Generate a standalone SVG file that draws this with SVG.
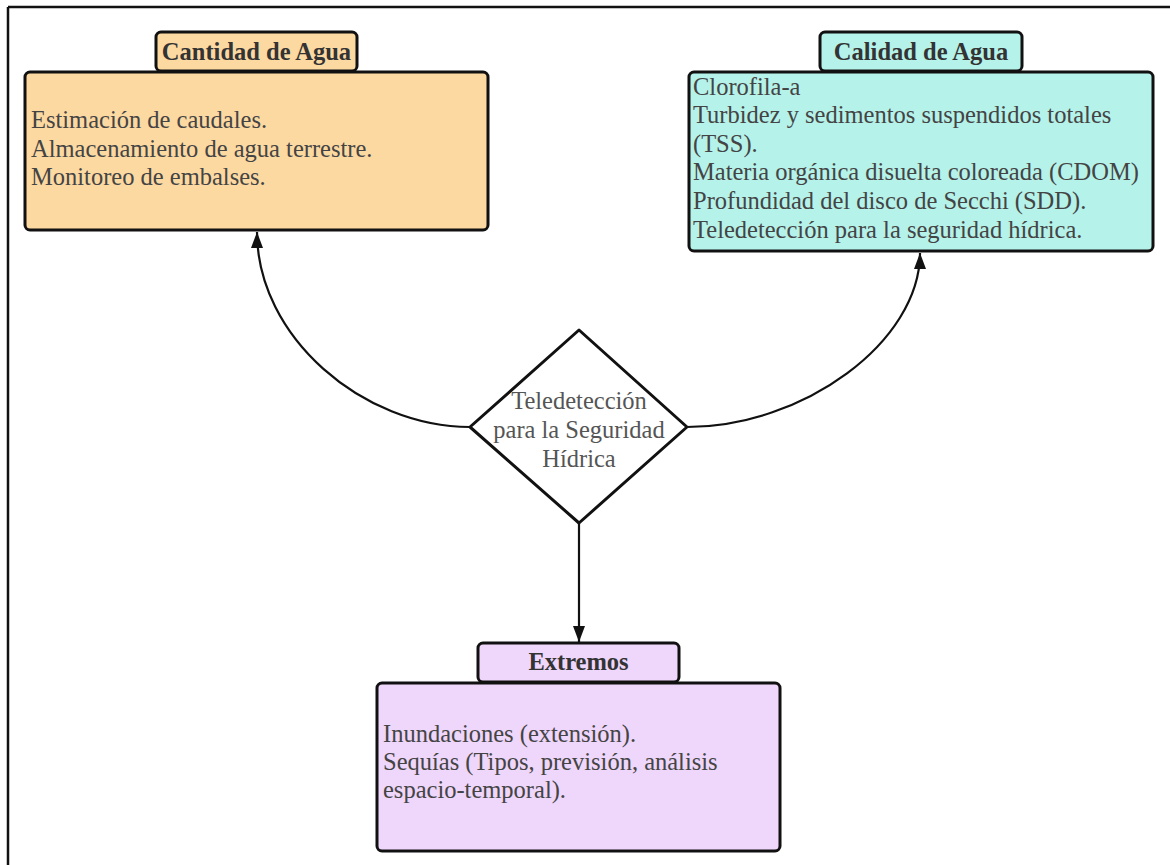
<svg xmlns="http://www.w3.org/2000/svg" width="1170" height="865" viewBox="0 0 1170 865">
<defs>
<style>
.box{stroke:#111;stroke-width:3}
.orange{fill:#fdd9a2}
.cyan{fill:#b5f2ea}
.purple{fill:#efd6fb}
.title{font-family:"Liberation Serif",serif;font-weight:bold;font-size:24.5px;fill:#333;text-anchor:middle}
.body{font-family:"Liberation Serif",serif;font-size:24.5px;fill:#444}
.dtext{font-family:"Liberation Serif",serif;font-size:24.5px;fill:#555;text-anchor:middle}
.conn{fill:none;stroke:#111;stroke-width:2.2}
</style>
<marker id="arr" markerUnits="userSpaceOnUse" markerWidth="16" markerHeight="14" refX="16" refY="6" orient="auto">
<path d="M0,0 L16,6 L0,12 Z" fill="#111"/>
</marker>
</defs>
<rect width="1170" height="865" fill="#fff"/>
<g id="frame">
<path d="M8,7 H1170 M8,7 V865" fill="none" stroke="#111" stroke-width="2.5"/>
</g>
<g id="connectors">
<path class="conn" d="M470,427 C363,427 257,337 257,232" marker-end="url(#arr)"/>
<path class="conn" d="M687,427 C803,427 920,342 920,253" marker-end="url(#arr)"/>
<path class="conn" d="M579,523 V642" marker-end="url(#arr)"/>
</g>
<g id="cantidad">
<rect class="box orange" x="156" y="32" width="201" height="39" rx="5"/>
<text class="title" x="256.5" y="60">Cantidad de Agua</text>
<rect class="box orange" x="25" y="72" width="463" height="158" rx="5"/>
<text class="body" x="31" y="128">Estimación de caudales.</text>
<text class="body" x="31" y="157">Almacenamiento de agua terrestre.</text>
<text class="body" x="31" y="185">Monitoreo de embalses.</text>
</g>
<g id="calidad">
<rect class="box cyan" x="820" y="32" width="202" height="39" rx="5"/>
<text class="title" x="921" y="60">Calidad de Agua</text>
<rect class="box cyan" x="689" y="72" width="464" height="179" rx="5"/>
<text class="body" x="693" y="95">Clorofila-a</text>
<text class="body" x="693" y="123">Turbidez y sedimentos suspendidos totales</text>
<text class="body" x="693" y="152">(TSS).</text>
<text class="body" x="693" y="180">Materia orgánica disuelta coloreada (CDOM)</text>
<text class="body" x="693" y="209">Profundidad del disco de Secchi (SDD).</text>
<text class="body" x="693" y="238">Teledetección para la seguridad hídrica.</text>
</g>
<g id="center">
<path d="M579,330 L687,427 L579,523 L470,427 Z" fill="#fff" stroke="#111" stroke-width="3" stroke-linejoin="round"/>
<text class="dtext" x="579" y="409">Teledetección</text>
<text class="dtext" x="579" y="438">para la Seguridad</text>
<text class="dtext" x="579" y="467">Hídrica</text>
</g>
<g id="extremos">
<rect class="box purple" x="478" y="643" width="201" height="39" rx="5"/>
<text class="title" x="578.5" y="670">Extremos</text>
<rect class="box purple" x="377" y="683" width="403" height="168" rx="5"/>
<text class="body" x="383" y="742">Inundaciones (extensión).</text>
<text class="body" x="383" y="770">Sequías (Tipos, previsión, análisis</text>
<text class="body" x="383" y="798">espacio-temporal).</text>
</g>
</svg>
